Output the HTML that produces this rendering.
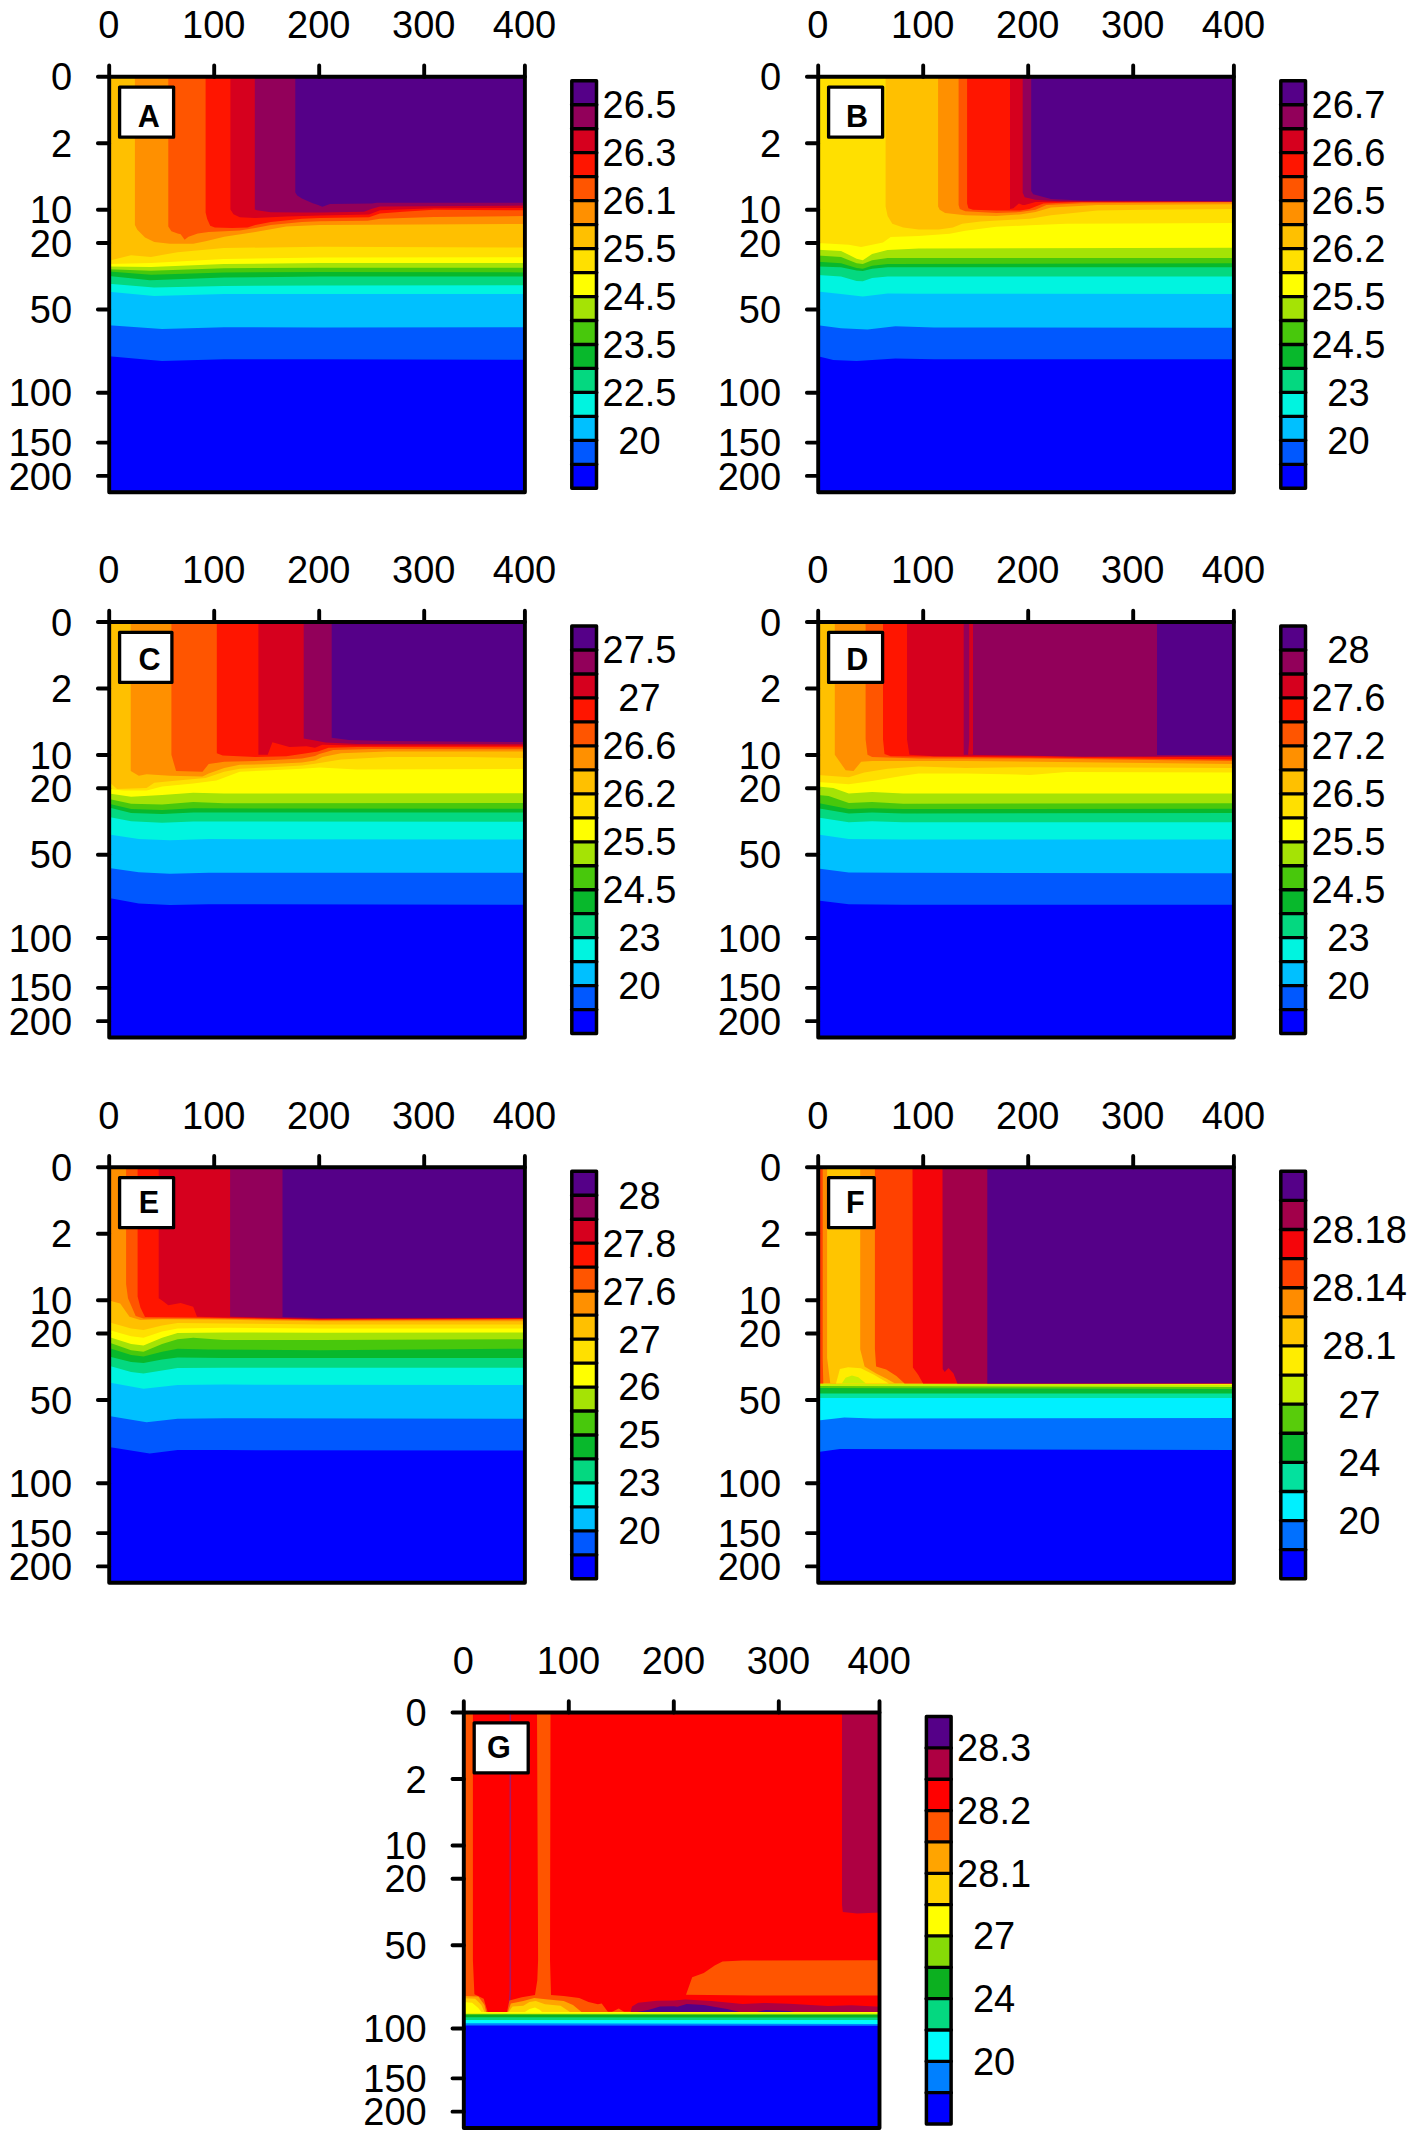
<!DOCTYPE html>
<html lang="en"><head><meta charset="utf-8"><title>Temperature sections A-G</title>
<style>html,body{margin:0;padding:0;background:#fff}svg{display:block}text{font-family:'Liberation Sans', Arial, Helvetica, sans-serif;font-size:38px;fill:#000}</style></head><body>
<svg width="1417" height="2142" viewBox="0 0 1417 2142">
<defs><clipPath id="pc"><rect x="109.2" y="76.7" width="415.7" height="415.6"/></clipPath></defs>
<rect width="1417" height="2142" fill="#fff"/>
<g transform="translate(0,0)">
<g clip-path="url(#pc)">
<rect x="100" y="70" width="440" height="430" fill="#0000ff"/>
<g transform="translate(0,0)">
<path d="M106.2,73.7 106.2,356.2 109,356.2 162,360.9 224,359.3 320,359.3 525,359.8 527.9,359.8 527.9,73.7Z" fill="#0058ff"/>
<path d="M106.2,73.7 106.2,325.2 109,325.2 162,329 224,327.2 320,327.5 525,327.2 527.9,327.2 527.9,73.7Z" fill="#00c0ff"/>
<path d="M106.2,73.7 106.2,291.8 109,291.8 154,296.1 224,294.1 525,294.1 527.9,294.1 527.9,73.7Z" fill="#00f4e0"/>
<path d="M106.2,73.7 106.2,283.7 109,283.7 154,287.5 224,285.9 320,285.6 525,285.3 527.9,285.3 527.9,73.7Z" fill="#04d880"/>
<path d="M106.2,73.7 106.2,276 109,276 150,280.2 224,277.5 320,276.6 525,276.6 527.9,276.6 527.9,73.7Z" fill="#08b82c"/>
<path d="M106.2,73.7 106.2,271.6 109,271.6 151,274.7 224,272.4 320,271.9 525,272.4 527.9,272.4 527.9,73.7Z" fill="#48c80c"/>
<path d="M106.2,73.7 106.2,269.3 109,269.3 151,270.8 224,268.2 320,267.7 525,267.7 527.9,267.7 527.9,73.7Z" fill="#a5e305"/>
<path d="M106.2,73.7 106.2,266.6 109,266.6 151,267 224,263.9 320,263.1 525,263.1 527.9,263.1 527.9,73.7Z" fill="#ffff00"/>
<path d="M106.2,73.7 106.2,263.9 109,263.9 151,263 224,258.9 320,257.6 525,257.2 527.9,257.2 527.9,73.7Z" fill="#ffe000"/>
<path d="M106.2,73.7 106.2,260.7 109,260.7 131,255.3 151,256.9 177.6,252.2 224,248 320,246.8 525,247.5 527.9,247.5 527.9,73.7Z" fill="#ffc000"/>
<path d="M134.9,73.7 134.9,77 134.9,225 137.3,229.7 145,237.5 154.3,242.1 169.9,243.7 193.2,243.7 205.6,241.3 224.2,236.7 255.3,232 286.3,226.6 320,225 525,223.9 527.9,223.9 527.9,73.7Z" fill="#ff9000"/>
<path d="M168.3,73.7 168.3,77 168.3,226.6 171.4,231.2 177.6,233.6 180.7,234.3 184.6,239.8 188.5,236.7 197.8,233.6 208.7,232 239.8,230.5 255.3,228.1 270.8,225 301.9,221.9 320,221.2 367.5,220.7 380,218.8 434,217 525,216 527.9,216 527.9,73.7Z" fill="#ff5500"/>
<path d="M205.6,73.7 205.6,77 205.6,212.6 207.1,218.8 210.2,225.8 214.9,227.4 232,228.1 247.5,227.4 255.3,225 270.8,221.9 301.9,218.8 320,218 369,217.3 380,213.4 403,211.8 434,209.8 525,210.3 527.9,210.3 527.9,73.7Z" fill="#ff1500"/>
<path d="M230.4,73.7 230.4,77 230.4,209.5 233.5,214.2 239.8,217.3 255.3,218 286.3,216.5 320,215.5 369,214.5 380,210.3 434,208.3 525,208 527.9,208 527.9,73.7Z" fill="#d6001e"/>
<path d="M254.8,73.7 254.8,77 254.8,209.5 256.8,210.3 270.8,212.3 301.9,212.6 320,212.5 364,211.8 372,208.7 380,206.4 525,205.6 527.9,205.6 527.9,73.7Z" fill="#92005a"/>
<path d="M295.3,73.7 295.3,77 295.3,192.4 297.2,195.5 301.9,198.6 312.7,203.3 317.4,204.8 322.4,206.7 330,204 372,203.6 376.8,202.8 525,202.8 527.9,202.8 527.9,73.7Z" fill="#550088"/>
</g>
</g>
<rect x="109.2" y="76.7" width="415.7" height="415.6" fill="none" stroke="#000" stroke-width="3.9" stroke-linejoin="round"/>
<path d="M109.2,76.7 V65.4M214.2,76.7 V65.4M319.2,76.7 V65.4M424.2,76.7 V65.4M524.9,76.7 V65.4M109.2,76.7 H97.9M109.2,143.3 H97.9M109.2,209.8 H97.9M109.2,243 H97.9M109.2,309.5 H97.9M109.2,392.8 H97.9M109.2,442.6 H97.9M109.2,475.9 H97.9" stroke="#000" stroke-width="3.9" stroke-linecap="round" fill="none"/>
<text x="108.8" y="38" text-anchor="middle">0</text>
<text x="213.8" y="38" text-anchor="middle">100</text>
<text x="318.8" y="38" text-anchor="middle">200</text>
<text x="423.8" y="38" text-anchor="middle">300</text>
<text x="524.5" y="38" text-anchor="middle">400</text>
<text x="72.1" y="90.3" text-anchor="end">0</text>
<text x="72.1" y="156.9" text-anchor="end">2</text>
<text x="72.1" y="223.4" text-anchor="end">10</text>
<text x="72.1" y="256.6" text-anchor="end">20</text>
<text x="72.1" y="323.1" text-anchor="end">50</text>
<text x="72.1" y="406.4" text-anchor="end">100</text>
<text x="72.1" y="456.2" text-anchor="end">150</text>
<text x="72.1" y="489.5" text-anchor="end">200</text>
<rect x="119.6" y="87.1" width="54" height="50.1" fill="#fff" stroke="#000" stroke-width="3.3" stroke-linejoin="round"/>
<text x="148.7" y="126.7" text-anchor="middle" style="font-weight:bold;font-size:30.5px">A</text>
<rect x="571.8" y="80.8" width="24.7" height="24.5" fill="#550088"/>
<rect x="571.8" y="104.8" width="24.7" height="24.5" fill="#92005a"/>
<rect x="571.8" y="128.7" width="24.7" height="24.5" fill="#d6001e"/>
<rect x="571.8" y="152.7" width="24.7" height="24.5" fill="#ff1500"/>
<rect x="571.8" y="176.7" width="24.7" height="24.5" fill="#ff5500"/>
<rect x="571.8" y="200.7" width="24.7" height="24.5" fill="#ff9000"/>
<rect x="571.8" y="224.6" width="24.7" height="24.5" fill="#ffc000"/>
<rect x="571.8" y="248.6" width="24.7" height="24.5" fill="#ffe000"/>
<rect x="571.8" y="272.6" width="24.7" height="24.5" fill="#ffff00"/>
<rect x="571.8" y="296.5" width="24.7" height="24.5" fill="#a5e305"/>
<rect x="571.8" y="320.5" width="24.7" height="24.5" fill="#48c80c"/>
<rect x="571.8" y="344.5" width="24.7" height="24.5" fill="#08b82c"/>
<rect x="571.8" y="368.4" width="24.7" height="24.5" fill="#04d880"/>
<rect x="571.8" y="392.4" width="24.7" height="24.5" fill="#00f4e0"/>
<rect x="571.8" y="416.4" width="24.7" height="24.5" fill="#00c0ff"/>
<rect x="571.8" y="440.4" width="24.7" height="24.5" fill="#0058ff"/>
<rect x="571.8" y="464.3" width="24.7" height="24.5" fill="#0000ff"/>
<path d="M571.5,104.77 H596.8M571.5,128.74 H596.8M571.5,152.71 H596.8M571.5,176.68 H596.8M571.5,200.65 H596.8M571.5,224.62 H596.8M571.5,248.59 H596.8M571.5,272.56 H596.8M571.5,296.54 H596.8M571.5,320.51 H596.8M571.5,344.48 H596.8M571.5,368.45 H596.8M571.5,392.42 H596.8M571.5,416.39 H596.8M571.5,440.36 H596.8M571.5,464.33 H596.8" stroke="#000" stroke-width="3.3" stroke-linecap="round" fill="none"/>
<rect x="571.8" y="80.8" width="24.7" height="407.5" fill="none" stroke="#000" stroke-width="3.5" stroke-linejoin="round"/>
<text x="639.5" y="118.2" text-anchor="middle">26.5</text>
<text x="639.5" y="166.1" text-anchor="middle">26.3</text>
<text x="639.5" y="214.1" text-anchor="middle">26.1</text>
<text x="639.5" y="262" text-anchor="middle">25.5</text>
<text x="639.5" y="309.9" text-anchor="middle">24.5</text>
<text x="639.5" y="357.9" text-anchor="middle">23.5</text>
<text x="639.5" y="405.8" text-anchor="middle">22.5</text>
<text x="639.5" y="453.8" text-anchor="middle">20</text>
</g>
<g transform="translate(709,0)">
<g clip-path="url(#pc)">
<rect x="100" y="70" width="440" height="430" fill="#0000ff"/>
<g transform="translate(0,0)">
<path d="M106.2,73.7 106.2,356.2 109,356.2 124.3,360.1 147.6,360.9 186.4,358.6 225.2,359.3 525,359.3 527.9,359.3 527.9,73.7Z" fill="#0058ff"/>
<path d="M106.2,73.7 106.2,325.2 109,325.2 132,328.3 158.5,329.4 186.4,326.3 225.2,327.5 525,327.8 527.9,327.8 527.9,73.7Z" fill="#00c0ff"/>
<path d="M106.2,73.7 106.2,291.5 109,291.5 132,294.1 153.8,296.5 178.6,293.4 209.7,293.7 525,294.1 527.9,294.1 527.9,73.7Z" fill="#00f4e0"/>
<path d="M106.2,73.7 106.2,275 109,275 132,276.5 147.6,280.9 153.8,281.2 163.1,278.1 178.6,276.5 525,276.5 527.9,276.5 527.9,73.7Z" fill="#04d880"/>
<path d="M106.2,73.7 106.2,266.4 109,266.4 132,267.2 147.6,270.6 153.8,271.1 163.1,268.8 178.6,267.2 525,267.2 527.9,267.2 527.9,73.7Z" fill="#08b82c"/>
<path d="M106.2,73.7 106.2,261.8 109,261.8 132,263.3 147.6,268 153.8,268.8 163.1,265.7 178.6,264.1 525,263.3 527.9,263.3 527.9,73.7Z" fill="#48c80c"/>
<path d="M106.2,73.7 106.2,255.6 109,255.6 132,257.1 147.6,263.3 153.8,264.1 163.1,260.2 178.6,257.9 525,257.9 527.9,257.9 527.9,73.7Z" fill="#a5e305"/>
<path d="M106.2,73.7 106.2,249.8 109,249.8 132,250.9 147.6,258.7 153.8,260.2 163.1,254 178.6,250.1 209.7,248.6 525,247.8 527.9,247.8 527.9,73.7Z" fill="#ffff00"/>
<path d="M106.2,73.7 106.2,243.1 109,243.1 139.8,244.7 152.2,247 163.1,244.7 174,242.4 181.7,236.9 209.7,236.1 240.8,233.8 256.3,230.7 287.3,226.8 321,225.3 357.6,223.7 525,223 527.9,223 527.9,73.7Z" fill="#ffe000"/>
<path d="M176.6,73.7 176.6,77 176.6,206.6 178.6,216 183.3,223.7 194.2,227.6 209.7,229.6 229.9,229.6 243.9,227.6 253.2,223.7 271.8,221.4 302.9,219.8 321,218.7 342,215.2 388.6,210.5 435.2,209.8 525,209 527.9,209 527.9,73.7Z" fill="#ffc000"/>
<path d="M229.1,73.7 229.1,77 229.1,206.6 230.7,209.8 236.1,212.9 256.3,215.2 287.3,216 311,214.4 326.5,212.1 342,207.4 388.6,205.1 525,204.3 527.9,204.3 527.9,73.7Z" fill="#ff9000"/>
<path d="M249.6,73.7 249.6,77 249.6,205.1 250.8,209 256.3,211.3 287.3,212.9 311,212.1 326.5,209.8 337.4,205.1 373,203.2 525,202.3 527.9,202.3 527.9,73.7Z" fill="#ff5500"/>
<path d="M258.1,73.7 258.1,77 258.1,203.5 259.4,208.2 264,209.8 287.3,210.5 311,210.5 320.3,209 334.3,203.5 373,202 525,201.7 527.9,201.7 527.9,73.7Z" fill="#ff1500"/>
<path d="M301,73.7 301,77 301,209 304.4,208.2 309.9,203.5 313.7,205.1 315.7,205.1 326.5,202 357.6,201.7 525,201.5 527.9,201.5 527.9,73.7Z" fill="#d6001e"/>
<path d="M313.7,73.7 313.7,77 313.7,192.7 315.7,197.3 326.5,199.7 349.8,201.2 525,201.4 527.9,201.4 527.9,73.7Z" fill="#92005a"/>
<path d="M322.2,73.7 322.2,77 322.2,191.1 324.2,194.2 342,198.9 373,200.4 525,201.2 527.9,201.2 527.9,73.7Z" fill="#550088"/>
</g>
</g>
<rect x="109.2" y="76.7" width="415.7" height="415.6" fill="none" stroke="#000" stroke-width="3.9" stroke-linejoin="round"/>
<path d="M109.2,76.7 V65.4M214.2,76.7 V65.4M319.2,76.7 V65.4M424.2,76.7 V65.4M524.9,76.7 V65.4M109.2,76.7 H97.9M109.2,143.3 H97.9M109.2,209.8 H97.9M109.2,243 H97.9M109.2,309.5 H97.9M109.2,392.8 H97.9M109.2,442.6 H97.9M109.2,475.9 H97.9" stroke="#000" stroke-width="3.9" stroke-linecap="round" fill="none"/>
<text x="108.8" y="38" text-anchor="middle">0</text>
<text x="213.8" y="38" text-anchor="middle">100</text>
<text x="318.8" y="38" text-anchor="middle">200</text>
<text x="423.8" y="38" text-anchor="middle">300</text>
<text x="524.5" y="38" text-anchor="middle">400</text>
<text x="72.1" y="90.3" text-anchor="end">0</text>
<text x="72.1" y="156.9" text-anchor="end">2</text>
<text x="72.1" y="223.4" text-anchor="end">10</text>
<text x="72.1" y="256.6" text-anchor="end">20</text>
<text x="72.1" y="323.1" text-anchor="end">50</text>
<text x="72.1" y="406.4" text-anchor="end">100</text>
<text x="72.1" y="456.2" text-anchor="end">150</text>
<text x="72.1" y="489.5" text-anchor="end">200</text>
<rect x="119.6" y="87.1" width="54" height="50.1" fill="#fff" stroke="#000" stroke-width="3.3" stroke-linejoin="round"/>
<text x="147.9" y="126.5" text-anchor="middle" style="font-weight:bold;font-size:30.5px">B</text>
<rect x="571.8" y="80.8" width="24.7" height="24.5" fill="#550088"/>
<rect x="571.8" y="104.8" width="24.7" height="24.5" fill="#92005a"/>
<rect x="571.8" y="128.7" width="24.7" height="24.5" fill="#d6001e"/>
<rect x="571.8" y="152.7" width="24.7" height="24.5" fill="#ff1500"/>
<rect x="571.8" y="176.7" width="24.7" height="24.5" fill="#ff5500"/>
<rect x="571.8" y="200.7" width="24.7" height="24.5" fill="#ff9000"/>
<rect x="571.8" y="224.6" width="24.7" height="24.5" fill="#ffc000"/>
<rect x="571.8" y="248.6" width="24.7" height="24.5" fill="#ffe000"/>
<rect x="571.8" y="272.6" width="24.7" height="24.5" fill="#ffff00"/>
<rect x="571.8" y="296.5" width="24.7" height="24.5" fill="#a5e305"/>
<rect x="571.8" y="320.5" width="24.7" height="24.5" fill="#48c80c"/>
<rect x="571.8" y="344.5" width="24.7" height="24.5" fill="#08b82c"/>
<rect x="571.8" y="368.4" width="24.7" height="24.5" fill="#04d880"/>
<rect x="571.8" y="392.4" width="24.7" height="24.5" fill="#00f4e0"/>
<rect x="571.8" y="416.4" width="24.7" height="24.5" fill="#00c0ff"/>
<rect x="571.8" y="440.4" width="24.7" height="24.5" fill="#0058ff"/>
<rect x="571.8" y="464.3" width="24.7" height="24.5" fill="#0000ff"/>
<path d="M571.5,104.77 H596.8M571.5,128.74 H596.8M571.5,152.71 H596.8M571.5,176.68 H596.8M571.5,200.65 H596.8M571.5,224.62 H596.8M571.5,248.59 H596.8M571.5,272.56 H596.8M571.5,296.54 H596.8M571.5,320.51 H596.8M571.5,344.48 H596.8M571.5,368.45 H596.8M571.5,392.42 H596.8M571.5,416.39 H596.8M571.5,440.36 H596.8M571.5,464.33 H596.8" stroke="#000" stroke-width="3.3" stroke-linecap="round" fill="none"/>
<rect x="571.8" y="80.8" width="24.7" height="407.5" fill="none" stroke="#000" stroke-width="3.5" stroke-linejoin="round"/>
<text x="639.5" y="118.2" text-anchor="middle">26.7</text>
<text x="639.5" y="166.1" text-anchor="middle">26.6</text>
<text x="639.5" y="214.1" text-anchor="middle">26.5</text>
<text x="639.5" y="262" text-anchor="middle">26.2</text>
<text x="639.5" y="309.9" text-anchor="middle">25.5</text>
<text x="639.5" y="357.9" text-anchor="middle">24.5</text>
<text x="639.5" y="405.8" text-anchor="middle">23</text>
<text x="639.5" y="453.8" text-anchor="middle">20</text>
</g>
<g transform="translate(0,545.25)">
<g clip-path="url(#pc)">
<rect x="100" y="70" width="440" height="430" fill="#0000ff"/>
<g transform="translate(0,-0.25)">
<path d="M106.2,73.7 106.2,353.1 109,353.1 138.8,358.6 169.9,360.1 208.7,359.3 525,359.8 527.9,359.8 527.9,73.7Z" fill="#0058ff"/>
<path d="M106.2,73.7 106.2,322.9 109,322.9 138.8,327.2 169.9,328.8 208.7,327.8 525,327.8 527.9,327.8 527.9,73.7Z" fill="#00c0ff"/>
<path d="M106.2,73.7 106.2,289.5 109,289.5 138.8,294.1 169.9,295.2 208.7,294.1 525,294.6 527.9,294.6 527.9,73.7Z" fill="#00f4e0"/>
<path d="M106.2,73.7 106.2,271.9 109,271.9 131.1,276.2 162.1,277.8 193.2,276.5 525,276.8 527.9,276.8 527.9,73.7Z" fill="#04d880"/>
<path d="M106.2,73.7 106.2,262.5 109,262.5 131.1,268 162.1,269.1 193.2,267.5 525,267.5 527.9,267.5 527.9,73.7Z" fill="#08b82c"/>
<path d="M106.2,73.7 106.2,258.7 109,258.7 131.1,264.1 162.1,264.9 193.2,263.3 525,263.8 527.9,263.8 527.9,73.7Z" fill="#48c80c"/>
<path d="M106.2,73.7 106.2,254 109,254 131.1,258.7 162.1,259.4 193.2,257.1 224.2,258.2 525,257.9 527.9,257.9 527.9,73.7Z" fill="#a5e305"/>
<path d="M106.2,73.7 106.2,248.6 109,248.6 131.1,251.7 162.1,250.1 193.2,247.8 224.2,248.6 525,248.3 527.9,248.3 527.9,73.7Z" fill="#ffff00"/>
<path d="M106.2,73.7 106.2,243.9 109,243.9 123.3,245.5 146.6,245.5 162.1,241.6 193.2,238.5 216.5,235.4 239.8,226.8 270.8,225.3 301.9,223.7 320,222.6 356.6,224.5 525,224 527.9,224 527.9,73.7Z" fill="#ffe000"/>
<path d="M106.2,73.7 106.2,236.9 109,236.9 117.1,243.9 146.6,243.1 154.3,237.7 177.6,235.4 205.6,233 224.2,226.8 239.8,223.7 270.8,222.2 301.9,220.6 315,218.7 341.1,214.4 387.6,212.1 465.3,212.1 525,212.9 527.9,212.9 527.9,73.7Z" fill="#ffc000"/>
<path d="M130.7,73.7 130.7,77 130.7,226 138.8,230.7 146.6,229.2 169.9,230.7 202.5,231.5 208.7,228.4 224.2,223 239.8,219.8 270.8,219.1 301.9,217.5 315,215.6 322.4,212.1 341.1,208.2 387.6,206.6 525,206.6 527.9,206.6 527.9,73.7Z" fill="#ff9000"/>
<path d="M171.4,73.7 171.4,77 171.4,209.8 176.1,226.1 202.5,226.8 208.7,219.1 224.2,216.7 255.3,216 301.9,213.6 315,211 319.3,209 333.3,205.1 372.1,203.9 525,204.3 527.9,204.3 527.9,73.7Z" fill="#ff5500"/>
<path d="M216.8,73.7 216.8,77 216.8,208.2 222.7,210.5 255.3,212.1 286.3,211.3 306.5,208.2 317.8,206.6 328.6,202.8 356.6,202 525,202.3 527.9,202.3 527.9,73.7Z" fill="#ff1500"/>
<path d="M258.4,73.7 258.4,77 258.4,209.8 267.7,209.8 272.4,197.3 289.4,202 306.5,201.2 315,202.8 322.4,199.7 356.6,200.4 525,200.7 527.9,200.7 527.9,73.7Z" fill="#d6001e"/>
<path d="M303.7,73.7 303.7,77 303.7,193.4 315,195.5 325.5,197.6 356.6,198.9 525,199.2 527.9,199.2 527.9,73.7Z" fill="#92005a"/>
<path d="M331.7,73.7 331.7,77 331.7,192.7 348.8,195 387.6,196.1 525,197 527.9,197 527.9,73.7Z" fill="#550088"/>
</g>
</g>
<rect x="109.2" y="76.7" width="415.7" height="415.6" fill="none" stroke="#000" stroke-width="3.9" stroke-linejoin="round"/>
<path d="M109.2,76.7 V65.4M214.2,76.7 V65.4M319.2,76.7 V65.4M424.2,76.7 V65.4M524.9,76.7 V65.4M109.2,76.7 H97.9M109.2,143.3 H97.9M109.2,209.8 H97.9M109.2,243 H97.9M109.2,309.5 H97.9M109.2,392.8 H97.9M109.2,442.6 H97.9M109.2,475.9 H97.9" stroke="#000" stroke-width="3.9" stroke-linecap="round" fill="none"/>
<text x="108.8" y="38" text-anchor="middle">0</text>
<text x="213.8" y="38" text-anchor="middle">100</text>
<text x="318.8" y="38" text-anchor="middle">200</text>
<text x="423.8" y="38" text-anchor="middle">300</text>
<text x="524.5" y="38" text-anchor="middle">400</text>
<text x="72.1" y="90.3" text-anchor="end">0</text>
<text x="72.1" y="156.9" text-anchor="end">2</text>
<text x="72.1" y="223.4" text-anchor="end">10</text>
<text x="72.1" y="256.6" text-anchor="end">20</text>
<text x="72.1" y="323.1" text-anchor="end">50</text>
<text x="72.1" y="406.4" text-anchor="end">100</text>
<text x="72.1" y="456.2" text-anchor="end">150</text>
<text x="72.1" y="489.5" text-anchor="end">200</text>
<rect x="119.6" y="87.1" width="52.3" height="50.1" fill="#fff" stroke="#000" stroke-width="3.3" stroke-linejoin="round"/>
<text x="149.6" y="125" text-anchor="middle" style="font-weight:bold;font-size:30.5px">C</text>
<rect x="571.8" y="80.8" width="24.7" height="24.5" fill="#550088"/>
<rect x="571.8" y="104.8" width="24.7" height="24.5" fill="#92005a"/>
<rect x="571.8" y="128.7" width="24.7" height="24.5" fill="#d6001e"/>
<rect x="571.8" y="152.7" width="24.7" height="24.5" fill="#ff1500"/>
<rect x="571.8" y="176.7" width="24.7" height="24.5" fill="#ff5500"/>
<rect x="571.8" y="200.7" width="24.7" height="24.5" fill="#ff9000"/>
<rect x="571.8" y="224.6" width="24.7" height="24.5" fill="#ffc000"/>
<rect x="571.8" y="248.6" width="24.7" height="24.5" fill="#ffe000"/>
<rect x="571.8" y="272.6" width="24.7" height="24.5" fill="#ffff00"/>
<rect x="571.8" y="296.5" width="24.7" height="24.5" fill="#a5e305"/>
<rect x="571.8" y="320.5" width="24.7" height="24.5" fill="#48c80c"/>
<rect x="571.8" y="344.5" width="24.7" height="24.5" fill="#08b82c"/>
<rect x="571.8" y="368.4" width="24.7" height="24.5" fill="#04d880"/>
<rect x="571.8" y="392.4" width="24.7" height="24.5" fill="#00f4e0"/>
<rect x="571.8" y="416.4" width="24.7" height="24.5" fill="#00c0ff"/>
<rect x="571.8" y="440.4" width="24.7" height="24.5" fill="#0058ff"/>
<rect x="571.8" y="464.3" width="24.7" height="24.5" fill="#0000ff"/>
<path d="M571.5,104.77 H596.8M571.5,128.74 H596.8M571.5,152.71 H596.8M571.5,176.68 H596.8M571.5,200.65 H596.8M571.5,224.62 H596.8M571.5,248.59 H596.8M571.5,272.56 H596.8M571.5,296.54 H596.8M571.5,320.51 H596.8M571.5,344.48 H596.8M571.5,368.45 H596.8M571.5,392.42 H596.8M571.5,416.39 H596.8M571.5,440.36 H596.8M571.5,464.33 H596.8" stroke="#000" stroke-width="3.3" stroke-linecap="round" fill="none"/>
<rect x="571.8" y="80.8" width="24.7" height="407.5" fill="none" stroke="#000" stroke-width="3.5" stroke-linejoin="round"/>
<text x="639.5" y="118.2" text-anchor="middle">27.5</text>
<text x="639.5" y="166.1" text-anchor="middle">27</text>
<text x="639.5" y="214.1" text-anchor="middle">26.6</text>
<text x="639.5" y="262" text-anchor="middle">26.2</text>
<text x="639.5" y="309.9" text-anchor="middle">25.5</text>
<text x="639.5" y="357.9" text-anchor="middle">24.5</text>
<text x="639.5" y="405.8" text-anchor="middle">23</text>
<text x="639.5" y="453.8" text-anchor="middle">20</text>
</g>
<g transform="translate(709,545.25)">
<g clip-path="url(#pc)">
<rect x="100" y="70" width="440" height="430" fill="#0000ff"/>
<g transform="translate(0,-0.25)">
<path d="M106.2,73.7 106.2,355.5 109,355.5 139.8,359.3 194.2,359.8 525,359.8 527.9,359.8 527.9,73.7Z" fill="#0058ff"/>
<path d="M106.2,73.7 106.2,323.6 109,323.6 139.8,327.5 194.2,327.8 525,328.3 527.9,328.3 527.9,73.7Z" fill="#00c0ff"/>
<path d="M106.2,73.7 106.2,289.5 109,289.5 139.8,294.1 194.2,294.6 525,294.6 527.9,294.6 527.9,73.7Z" fill="#00f4e0"/>
<path d="M106.2,73.7 106.2,272.6 109,272.6 139.8,277.3 163.1,276.2 194.2,277.3 525,277.3 527.9,277.3 527.9,73.7Z" fill="#04d880"/>
<path d="M106.2,73.7 106.2,263.3 109,263.3 139.8,268.4 163.1,267.5 194.2,268.4 525,268 527.9,268 527.9,73.7Z" fill="#08b82c"/>
<path d="M106.2,73.7 106.2,257.9 109,257.9 139.8,264.1 163.1,263.3 194.2,264.1 525,263.8 527.9,263.8 527.9,73.7Z" fill="#48c80c"/>
<path d="M106.2,73.7 106.2,250.1 109,250.1 119.6,250.9 139.8,257.9 163.1,257.1 194.2,258.7 525,258.2 527.9,258.2 527.9,73.7Z" fill="#a5e305"/>
<path d="M106.2,73.7 106.2,241.6 109,241.6 124.3,243.1 139.8,248.6 163.1,247 194.2,248.6 525,248.6 527.9,248.6 527.9,73.7Z" fill="#ffff00"/>
<path d="M106.2,73.7 106.2,236.9 109,236.9 139.8,239.3 163.1,236.1 194.2,230.7 209.7,228.4 256.3,228.4 321,229.9 357.6,227.1 525,227.6 527.9,227.6 527.9,73.7Z" fill="#ffe000"/>
<path d="M106.2,73.7 106.2,229.9 109,229.9 139.8,232.3 155.3,227.6 178.6,223.7 209.7,221.4 256.3,223 321,222.2 525,223 527.9,223 527.9,73.7Z" fill="#ffc000"/>
<path d="M125.8,73.7 125.8,77 125.8,209.8 136.7,225.3 144.5,226.1 152.2,216.7 163.1,216 209.7,216 256.3,216 525,219 527.9,219 527.9,73.7Z" fill="#ff9000"/>
<path d="M156.6,73.7 156.6,77 156.6,194.2 158.5,209.8 163.1,212.1 209.7,213.6 321,213.6 525,216 527.9,216 527.9,73.7Z" fill="#ff5500"/>
<path d="M174,73.7 174,77 174,194.2 175.5,209 181.7,211.3 321,212.5 525,214.4 527.9,214.4 527.9,73.7Z" fill="#ff1500"/>
<path d="M198,73.7 198,77 198,194.2 200.4,209.8 225.2,211.3 321,211.3 525,212 527.9,212 527.9,73.7Z" fill="#d6001e"/>
<path d="M254.7,73.7 254.7,77 254.7,209.8 311,210.5 373,211.7 525,211.3 527.9,211.3 527.9,73.7Z" fill="#92005a"/>
<path d="M260.2,74 264,74 264,209.8 259.1,209.8 260.2,195Z" fill="#d6001e"/>
<path d="M448,73.7 448,77 448,210.1 525,210.1 527.9,210.1 527.9,73.7Z" fill="#550088"/>
</g>
</g>
<rect x="109.2" y="76.7" width="415.7" height="415.6" fill="none" stroke="#000" stroke-width="3.9" stroke-linejoin="round"/>
<path d="M109.2,76.7 V65.4M214.2,76.7 V65.4M319.2,76.7 V65.4M424.2,76.7 V65.4M524.9,76.7 V65.4M109.2,76.7 H97.9M109.2,143.3 H97.9M109.2,209.8 H97.9M109.2,243 H97.9M109.2,309.5 H97.9M109.2,392.8 H97.9M109.2,442.6 H97.9M109.2,475.9 H97.9" stroke="#000" stroke-width="3.9" stroke-linecap="round" fill="none"/>
<text x="108.8" y="38" text-anchor="middle">0</text>
<text x="213.8" y="38" text-anchor="middle">100</text>
<text x="318.8" y="38" text-anchor="middle">200</text>
<text x="423.8" y="38" text-anchor="middle">300</text>
<text x="524.5" y="38" text-anchor="middle">400</text>
<text x="72.1" y="90.3" text-anchor="end">0</text>
<text x="72.1" y="156.9" text-anchor="end">2</text>
<text x="72.1" y="223.4" text-anchor="end">10</text>
<text x="72.1" y="256.6" text-anchor="end">20</text>
<text x="72.1" y="323.1" text-anchor="end">50</text>
<text x="72.1" y="406.4" text-anchor="end">100</text>
<text x="72.1" y="456.2" text-anchor="end">150</text>
<text x="72.1" y="489.5" text-anchor="end">200</text>
<rect x="119.6" y="87.1" width="54" height="50.1" fill="#fff" stroke="#000" stroke-width="3.3" stroke-linejoin="round"/>
<text x="148.3" y="124.8" text-anchor="middle" style="font-weight:bold;font-size:30.5px">D</text>
<rect x="571.8" y="80.8" width="24.7" height="24.5" fill="#550088"/>
<rect x="571.8" y="104.8" width="24.7" height="24.5" fill="#92005a"/>
<rect x="571.8" y="128.7" width="24.7" height="24.5" fill="#d6001e"/>
<rect x="571.8" y="152.7" width="24.7" height="24.5" fill="#ff1500"/>
<rect x="571.8" y="176.7" width="24.7" height="24.5" fill="#ff5500"/>
<rect x="571.8" y="200.7" width="24.7" height="24.5" fill="#ff9000"/>
<rect x="571.8" y="224.6" width="24.7" height="24.5" fill="#ffc000"/>
<rect x="571.8" y="248.6" width="24.7" height="24.5" fill="#ffe000"/>
<rect x="571.8" y="272.6" width="24.7" height="24.5" fill="#ffff00"/>
<rect x="571.8" y="296.5" width="24.7" height="24.5" fill="#a5e305"/>
<rect x="571.8" y="320.5" width="24.7" height="24.5" fill="#48c80c"/>
<rect x="571.8" y="344.5" width="24.7" height="24.5" fill="#08b82c"/>
<rect x="571.8" y="368.4" width="24.7" height="24.5" fill="#04d880"/>
<rect x="571.8" y="392.4" width="24.7" height="24.5" fill="#00f4e0"/>
<rect x="571.8" y="416.4" width="24.7" height="24.5" fill="#00c0ff"/>
<rect x="571.8" y="440.4" width="24.7" height="24.5" fill="#0058ff"/>
<rect x="571.8" y="464.3" width="24.7" height="24.5" fill="#0000ff"/>
<path d="M571.5,104.77 H596.8M571.5,128.74 H596.8M571.5,152.71 H596.8M571.5,176.68 H596.8M571.5,200.65 H596.8M571.5,224.62 H596.8M571.5,248.59 H596.8M571.5,272.56 H596.8M571.5,296.54 H596.8M571.5,320.51 H596.8M571.5,344.48 H596.8M571.5,368.45 H596.8M571.5,392.42 H596.8M571.5,416.39 H596.8M571.5,440.36 H596.8M571.5,464.33 H596.8" stroke="#000" stroke-width="3.3" stroke-linecap="round" fill="none"/>
<rect x="571.8" y="80.8" width="24.7" height="407.5" fill="none" stroke="#000" stroke-width="3.5" stroke-linejoin="round"/>
<text x="639.5" y="118.2" text-anchor="middle">28</text>
<text x="639.5" y="166.1" text-anchor="middle">27.6</text>
<text x="639.5" y="214.1" text-anchor="middle">27.2</text>
<text x="639.5" y="262" text-anchor="middle">26.5</text>
<text x="639.5" y="309.9" text-anchor="middle">25.5</text>
<text x="639.5" y="357.9" text-anchor="middle">24.5</text>
<text x="639.5" y="405.8" text-anchor="middle">23</text>
<text x="639.5" y="453.8" text-anchor="middle">20</text>
</g>
<g transform="translate(0,1090.5)">
<g clip-path="url(#pc)">
<rect x="100" y="70" width="440" height="430" fill="#0000ff"/>
<g transform="translate(0,-0.5)">
<path d="M106.2,73.7 106.2,357 109,357 149.7,363.5 177.6,360.1 224.2,360.1 525,360.4 527.9,360.4 527.9,73.7Z" fill="#0058ff"/>
<path d="M106.2,73.7 106.2,326 109,326 146.6,332.2 177.6,328.8 224.2,328.3 525,328.8 527.9,328.8 527.9,73.7Z" fill="#00c0ff"/>
<path d="M106.2,73.7 106.2,292.6 109,292.6 143.5,298.8 177.6,294.9 224.2,294.6 525,294.9 527.9,294.9 527.9,73.7Z" fill="#00f4e0"/>
<path d="M106.2,73.7 106.2,275.7 109,275.7 131.1,282 143.5,283.5 162.1,280.4 177.6,278.1 224.2,277.8 525,277.8 527.9,277.8 527.9,73.7Z" fill="#04d880"/>
<path d="M106.2,73.7 106.2,266.4 109,266.4 131.1,271.9 143.5,273.1 162.1,269.5 177.6,267.5 224.2,268 525,268 527.9,268 527.9,73.7Z" fill="#08b82c"/>
<path d="M106.2,73.7 106.2,257.9 109,257.9 131.1,264.9 143.5,266.4 162.1,261.8 177.6,258.7 208.7,259.4 320,260.2 525,258.7 527.9,258.7 527.9,73.7Z" fill="#48c80c"/>
<path d="M106.2,73.7 106.2,252.5 109,252.5 131.1,260.2 143.5,261.8 162.1,254 177.6,249.3 193.2,247.8 224.2,250.1 320,250.1 525,249.3 527.9,249.3 527.9,73.7Z" fill="#a5e305"/>
<path d="M106.2,73.7 106.2,247 109,247 131.1,254 143.5,255.6 162.1,247.8 177.6,243.1 224.2,242.4 320,242.7 525,242.4 527.9,242.4 527.9,73.7Z" fill="#ffff00"/>
<path d="M106.2,73.7 106.2,240 109,240 131.1,246.2 143.5,247.8 162.1,241.6 177.6,238.5 224.2,237.7 320,238.5 525,238.5 527.9,238.5 527.9,73.7Z" fill="#ffe000"/>
<path d="M106.2,73.7 106.2,232.3 109,232.3 131.1,238.5 143.5,240 162.1,235.4 177.6,233 224.2,233.4 320,234.6 525,234.6 527.9,234.6 527.9,73.7Z" fill="#ffc000"/>
<path d="M106.2,73.7 106.2,210.5 109,210.5 120.2,213.6 129.5,226.8 140.4,229.9 162.1,229.2 208.7,229.6 320,231.2 525,231.2 527.9,231.2 527.9,73.7Z" fill="#ff9000"/>
<path d="M126.1,73.7 126.1,77 126.1,194.2 128,208.2 135.7,226.1 143.5,228.4 193.2,228.4 320,230.2 525,229.6 527.9,229.6 527.9,73.7Z" fill="#ff5500"/>
<path d="M137.6,73.7 137.6,77 137.6,206.6 140.4,217.5 145,227.1 193.2,227.6 320,229.6 525,228.9 527.9,228.9 527.9,73.7Z" fill="#ff1500"/>
<path d="M158.7,73.7 158.7,77 158.7,208.2 162.1,210.5 168.3,215.2 180.7,212.9 193.2,216.7 197,226.8 320,229.2 525,228.4 527.9,228.4 527.9,73.7Z" fill="#d6001e"/>
<path d="M230.1,73.7 230.1,77 230.1,226.8 320,228.7 525,228 527.9,228 527.9,73.7Z" fill="#92005a"/>
<path d="M282.5,73.7 282.5,77 282.5,227.1 320,228.1 525,227.6 527.9,227.6 527.9,73.7Z" fill="#550088"/>
</g>
</g>
<rect x="109.2" y="76.7" width="415.7" height="415.6" fill="none" stroke="#000" stroke-width="3.9" stroke-linejoin="round"/>
<path d="M109.2,76.7 V65.4M214.2,76.7 V65.4M319.2,76.7 V65.4M424.2,76.7 V65.4M524.9,76.7 V65.4M109.2,76.7 H97.9M109.2,143.3 H97.9M109.2,209.8 H97.9M109.2,243 H97.9M109.2,309.5 H97.9M109.2,392.8 H97.9M109.2,442.6 H97.9M109.2,475.9 H97.9" stroke="#000" stroke-width="3.9" stroke-linecap="round" fill="none"/>
<text x="108.8" y="38" text-anchor="middle">0</text>
<text x="213.8" y="38" text-anchor="middle">100</text>
<text x="318.8" y="38" text-anchor="middle">200</text>
<text x="423.8" y="38" text-anchor="middle">300</text>
<text x="524.5" y="38" text-anchor="middle">400</text>
<text x="72.1" y="90.3" text-anchor="end">0</text>
<text x="72.1" y="156.9" text-anchor="end">2</text>
<text x="72.1" y="223.4" text-anchor="end">10</text>
<text x="72.1" y="256.6" text-anchor="end">20</text>
<text x="72.1" y="323.1" text-anchor="end">50</text>
<text x="72.1" y="406.4" text-anchor="end">100</text>
<text x="72.1" y="456.2" text-anchor="end">150</text>
<text x="72.1" y="489.5" text-anchor="end">200</text>
<rect x="119.6" y="87.1" width="54" height="50.1" fill="#fff" stroke="#000" stroke-width="3.3" stroke-linejoin="round"/>
<text x="148.8" y="122.4" text-anchor="middle" style="font-weight:bold;font-size:30.5px">E</text>
<rect x="571.8" y="80.8" width="24.7" height="24.5" fill="#550088"/>
<rect x="571.8" y="104.8" width="24.7" height="24.5" fill="#92005a"/>
<rect x="571.8" y="128.7" width="24.7" height="24.5" fill="#d6001e"/>
<rect x="571.8" y="152.7" width="24.7" height="24.5" fill="#ff1500"/>
<rect x="571.8" y="176.7" width="24.7" height="24.5" fill="#ff5500"/>
<rect x="571.8" y="200.7" width="24.7" height="24.5" fill="#ff9000"/>
<rect x="571.8" y="224.6" width="24.7" height="24.5" fill="#ffc000"/>
<rect x="571.8" y="248.6" width="24.7" height="24.5" fill="#ffe000"/>
<rect x="571.8" y="272.6" width="24.7" height="24.5" fill="#ffff00"/>
<rect x="571.8" y="296.5" width="24.7" height="24.5" fill="#a5e305"/>
<rect x="571.8" y="320.5" width="24.7" height="24.5" fill="#48c80c"/>
<rect x="571.8" y="344.5" width="24.7" height="24.5" fill="#08b82c"/>
<rect x="571.8" y="368.4" width="24.7" height="24.5" fill="#04d880"/>
<rect x="571.8" y="392.4" width="24.7" height="24.5" fill="#00f4e0"/>
<rect x="571.8" y="416.4" width="24.7" height="24.5" fill="#00c0ff"/>
<rect x="571.8" y="440.4" width="24.7" height="24.5" fill="#0058ff"/>
<rect x="571.8" y="464.3" width="24.7" height="24.5" fill="#0000ff"/>
<path d="M571.5,104.77 H596.8M571.5,128.74 H596.8M571.5,152.71 H596.8M571.5,176.68 H596.8M571.5,200.65 H596.8M571.5,224.62 H596.8M571.5,248.59 H596.8M571.5,272.56 H596.8M571.5,296.54 H596.8M571.5,320.51 H596.8M571.5,344.48 H596.8M571.5,368.45 H596.8M571.5,392.42 H596.8M571.5,416.39 H596.8M571.5,440.36 H596.8M571.5,464.33 H596.8" stroke="#000" stroke-width="3.3" stroke-linecap="round" fill="none"/>
<rect x="571.8" y="80.8" width="24.7" height="407.5" fill="none" stroke="#000" stroke-width="3.5" stroke-linejoin="round"/>
<text x="639.5" y="118.2" text-anchor="middle">28</text>
<text x="639.5" y="166.1" text-anchor="middle">27.8</text>
<text x="639.5" y="214.1" text-anchor="middle">27.6</text>
<text x="639.5" y="262" text-anchor="middle">27</text>
<text x="639.5" y="309.9" text-anchor="middle">26</text>
<text x="639.5" y="357.9" text-anchor="middle">25</text>
<text x="639.5" y="405.8" text-anchor="middle">23</text>
<text x="639.5" y="453.8" text-anchor="middle">20</text>
</g>
<g transform="translate(709,1090.5)">
<g clip-path="url(#pc)">
<rect x="100" y="70" width="440" height="430" fill="#0000ff"/>
<g transform="translate(0,-0.5)">
<path d="M106.2,73.7 106.2,362 109,362 131,359 525,360 527.9,360 527.9,73.7Z" fill="#0070ff"/>
<path d="M106.2,73.7 106.2,330.4 109,330.4 135.3,327.6 164.5,328.4 525,328.1 527.9,328.1 527.9,73.7Z" fill="#00f0ff"/>
<path d="M106.2,73.7 106.2,308.1 109,308.1 525,308 527.9,308 527.9,73.7Z" fill="#03e19e"/>
<path d="M106.2,73.7 106.2,303.4 109,303.4 525,303.4 527.9,303.4 527.9,73.7Z" fill="#08ba32"/>
<path d="M106.2,73.7 106.2,298 109,298 525,299.1 527.9,299.1 527.9,73.7Z" fill="#58cc0b"/>
<path d="M106.2,73.7 106.2,296 109,296 525,297.1 527.9,297.1 527.9,73.7Z" fill="#c8ee03"/>
<path d="M106.2,73.7 106.2,293.5 109,293.5 300,293.5 525,294.9 527.9,294.9 527.9,73.7Z" fill="#ffed00"/>
<path d="M106,73.7 527.9,73.7 527.9,293.3 106,293.5Z" fill="#ff8c00"/>
<path d="M106,73.7 113.7,73.7 113.7,268 114.3,293.5 106,293.5Z" fill="#ff4100"/>
<path d="M118.1,73.7 151.2,73.7 151.2,259.2 155.6,276.4 167.1,283.4 177.2,288.4 186.1,293.5 121.3,293.5 118.1,268.1Z" fill="#ffc500"/>
<path d="M127,293.5 130.9,278.9 139.1,277.3 151.8,278.3 164.5,284.6 179.8,293.5Z" fill="#ffed00"/>
<path d="M132.8,293.5 136.6,287.8 142.9,285.6 149.3,287.2 156.9,293.5Z" fill="#c8ee03"/>
<path d="M165.9,73.7 165.9,259 167.1,276.4 177.2,279.5 187.4,285.9 195.6,293.5 527.9,293.4 527.9,73.7Z" fill="#ff4100"/>
<path d="M203.5,73.7 203.9,277.6 209,284.6 214.1,293.5 527.9,293.4 527.9,73.7Z" fill="#f5050a"/>
<path d="M233.5,73.7 233.7,278.9 235.7,282.1 239.5,278 244.5,283.4 248.4,293.5 527.9,293.4 527.9,73.7Z" fill="#a2004a"/>
<path d="M278.3,73.7 278.3,293.4 527.9,293.3 527.9,73.7Z" fill="#550088"/>
</g>
</g>
<rect x="109.2" y="76.7" width="415.7" height="415.6" fill="none" stroke="#000" stroke-width="3.9" stroke-linejoin="round"/>
<path d="M109.2,76.7 V65.4M214.2,76.7 V65.4M319.2,76.7 V65.4M424.2,76.7 V65.4M524.9,76.7 V65.4M109.2,76.7 H97.9M109.2,143.3 H97.9M109.2,209.8 H97.9M109.2,243 H97.9M109.2,309.5 H97.9M109.2,392.8 H97.9M109.2,442.6 H97.9M109.2,475.9 H97.9" stroke="#000" stroke-width="3.9" stroke-linecap="round" fill="none"/>
<text x="108.8" y="38" text-anchor="middle">0</text>
<text x="213.8" y="38" text-anchor="middle">100</text>
<text x="318.8" y="38" text-anchor="middle">200</text>
<text x="423.8" y="38" text-anchor="middle">300</text>
<text x="524.5" y="38" text-anchor="middle">400</text>
<text x="72.1" y="90.3" text-anchor="end">0</text>
<text x="72.1" y="156.9" text-anchor="end">2</text>
<text x="72.1" y="223.4" text-anchor="end">10</text>
<text x="72.1" y="256.6" text-anchor="end">20</text>
<text x="72.1" y="323.1" text-anchor="end">50</text>
<text x="72.1" y="406.4" text-anchor="end">100</text>
<text x="72.1" y="456.2" text-anchor="end">150</text>
<text x="72.1" y="489.5" text-anchor="end">200</text>
<rect x="119.6" y="87.1" width="45.6" height="50.1" fill="#fff" stroke="#000" stroke-width="3.3" stroke-linejoin="round"/>
<text x="146.3" y="122.4" text-anchor="middle" style="font-weight:bold;font-size:30.5px">F</text>
<rect x="571.8" y="80.8" width="24.7" height="29.6" fill="#550088"/>
<rect x="571.8" y="109.9" width="24.7" height="29.6" fill="#a2004a"/>
<rect x="571.8" y="139" width="24.7" height="29.6" fill="#f5050a"/>
<rect x="571.8" y="168.1" width="24.7" height="29.6" fill="#ff4100"/>
<rect x="571.8" y="197.2" width="24.7" height="29.6" fill="#ff8c00"/>
<rect x="571.8" y="226.3" width="24.7" height="29.6" fill="#ffc500"/>
<rect x="571.8" y="255.4" width="24.7" height="29.6" fill="#ffed00"/>
<rect x="571.8" y="284.6" width="24.7" height="29.6" fill="#c8ee03"/>
<rect x="571.8" y="313.7" width="24.7" height="29.6" fill="#58cc0b"/>
<rect x="571.8" y="342.8" width="24.7" height="29.6" fill="#08ba32"/>
<rect x="571.8" y="371.9" width="24.7" height="29.6" fill="#03e19e"/>
<rect x="571.8" y="401" width="24.7" height="29.6" fill="#00f0ff"/>
<rect x="571.8" y="430.1" width="24.7" height="29.6" fill="#0070ff"/>
<rect x="571.8" y="459.2" width="24.7" height="29.6" fill="#0000ff"/>
<path d="M571.5,109.91 H596.8M571.5,139.01 H596.8M571.5,168.12 H596.8M571.5,197.23 H596.8M571.5,226.34 H596.8M571.5,255.44 H596.8M571.5,284.55 H596.8M571.5,313.66 H596.8M571.5,342.76 H596.8M571.5,371.87 H596.8M571.5,400.98 H596.8M571.5,430.09 H596.8M571.5,459.19 H596.8" stroke="#000" stroke-width="3.3" stroke-linecap="round" fill="none"/>
<rect x="571.8" y="80.8" width="24.7" height="407.5" fill="none" stroke="#000" stroke-width="3.5" stroke-linejoin="round"/>
<text x="650.3" y="152.4" text-anchor="middle">28.18</text>
<text x="650.3" y="210.6" text-anchor="middle">28.14</text>
<text x="650.3" y="268.8" text-anchor="middle">28.1</text>
<text x="650.3" y="327.1" text-anchor="middle">27</text>
<text x="650.3" y="385.3" text-anchor="middle">24</text>
<text x="650.3" y="443.5" text-anchor="middle">20</text>
</g>
<g transform="translate(354.6,1635.75)">
<g clip-path="url(#pc)">
<rect x="100" y="70" width="440" height="430" fill="#0000ff"/>
<g transform="translate(-0.2,-0.75)">
<path d="M106.2,73.7 106.2,390.6 109,390.6 525,390.7 527.9,390.7 527.9,73.7Z" fill="#0080ff"/>
<path d="M106.2,73.7 106.2,388.2 109,388.2 525,388.9 527.9,388.9 527.9,73.7Z" fill="#00fcfc"/>
<path d="M106.2,73.7 106.2,384.9 109,384.9 525,385 527.9,385 527.9,73.7Z" fill="#04d880"/>
<path d="M106.2,73.7 106.2,382.3 109,382.3 525,382.6 527.9,382.6 527.9,73.7Z" fill="#0cb020"/>
<path d="M106.2,73.7 106.2,379.6 109,379.6 525,379.8 527.9,379.8 527.9,73.7Z" fill="#86da07"/>
<path d="M106.2,73.7 106.2,378.7 109,378.7 525,378.8 527.9,378.8 527.9,73.7Z" fill="#ffff00"/>
<path d="M106.2,73.7 106.2,377 109,377 525,376.8 527.9,376.8 527.9,73.7Z" fill="#ff0000"/>
<path d="M106,73.7 118.5,73.7 118.5,325 120,359.2 129.3,363.8 133.2,377 106,377Z" fill="#ff5500"/>
<path d="M106,361 123.9,361.5 130.1,370 131.7,377 106,377Z" fill="#ffa400"/>
<path d="M106,363 120.8,363.8 127,370 130.1,377 106,377Z" fill="#ffd400"/>
<path d="M106,366.9 117.7,367.7 123.9,373.1 127,377 106,377Z" fill="#ffff00"/>
<path d="M155.9,73.7 L155.9,355 L154.6,377" stroke="#a81868" stroke-width="1.6" fill="none"/>
<path d="M182.6,73.7 196.1,73.7 195.6,325 196.6,359.9 209.3,361 224.8,363 234.1,366.9 243.5,369.3 247.3,368.5 253.6,377 152.6,377 155,365.4 167.4,362.3 180.6,359.9 182.9,345.2 183.7,325Z" fill="#ff5500"/>
<path d="M257.4,377 264.4,373.4 269.9,377Z" fill="#ff5500"/>
<path d="M153.4,377 156.5,368.5 168.9,366.1 179.8,363 193.8,364.6 209.3,366.1 218.6,370 227.1,377Z" fill="#ffa400"/>
<path d="M154.2,377 158.1,371.6 168.9,370.8 175.1,366.9 181.3,366.1 190.7,369.3 206.2,370.8 215.5,377Z" fill="#ffd400"/>
<path d="M170.5,377 175.1,373.9 180.6,372.4 185.2,374.7 187.6,377Z" fill="#ffff00"/>
<path d="M487.6,73.7 527.9,73.7 527.9,277.3 502.8,278.5 488.4,277 487.6,270Z" fill="#ae0042"/>
<path d="M331.6,359.7 337.8,342.3 349.4,337.9 360.3,330.6 368.1,326.4 388.2,325.5 527.9,325.2 527.9,360.6 400,360.6Z" fill="#ff5500"/>
<path d="M276.1,377 277.6,371.6 283.8,367.7 302.5,365.7 319.4,365.4 330.8,364.5 357.2,366 388.2,369 411.5,367.9 434.8,368.7 473.6,371 496.9,370.2 527.9,371.8 527.9,377Z" fill="#ae0042"/>
<path d="M282.3,377 294.7,374.7 305.6,371.6 319.4,371.3 323,371.8 332.3,369 349.4,369.9 372.7,374.1 385.1,377Z" fill="#550088"/>
<path d="M402.2,377 411.5,374.9 434.8,376.1 440,377Z" fill="#550088"/>
</g>
</g>
<rect x="109.2" y="76.7" width="415.7" height="415.6" fill="none" stroke="#000" stroke-width="3.9" stroke-linejoin="round"/>
<path d="M109.2,76.7 V65.4M214.2,76.7 V65.4M319.2,76.7 V65.4M424.2,76.7 V65.4M524.9,76.7 V65.4M109.2,76.7 H97.9M109.2,143.3 H97.9M109.2,209.8 H97.9M109.2,243 H97.9M109.2,309.5 H97.9M109.2,392.8 H97.9M109.2,442.6 H97.9M109.2,475.9 H97.9" stroke="#000" stroke-width="3.9" stroke-linecap="round" fill="none"/>
<text x="108.8" y="38" text-anchor="middle">0</text>
<text x="213.8" y="38" text-anchor="middle">100</text>
<text x="318.8" y="38" text-anchor="middle">200</text>
<text x="423.8" y="38" text-anchor="middle">300</text>
<text x="524.5" y="38" text-anchor="middle">400</text>
<text x="72.1" y="90.3" text-anchor="end">0</text>
<text x="72.1" y="156.9" text-anchor="end">2</text>
<text x="72.1" y="223.4" text-anchor="end">10</text>
<text x="72.1" y="256.6" text-anchor="end">20</text>
<text x="72.1" y="323.1" text-anchor="end">50</text>
<text x="72.1" y="406.4" text-anchor="end">100</text>
<text x="72.1" y="456.2" text-anchor="end">150</text>
<text x="72.1" y="489.5" text-anchor="end">200</text>
<rect x="119.6" y="87.1" width="54" height="50.1" fill="#fff" stroke="#000" stroke-width="3.3" stroke-linejoin="round"/>
<text x="144.2" y="122.7" text-anchor="middle" style="font-weight:bold;font-size:30.5px">G</text>
<rect x="571.8" y="80.8" width="24.7" height="31.8" fill="#550088"/>
<rect x="571.8" y="112.1" width="24.7" height="31.8" fill="#ae0042"/>
<rect x="571.8" y="143.5" width="24.7" height="31.8" fill="#ff0000"/>
<rect x="571.8" y="174.8" width="24.7" height="31.8" fill="#ff5500"/>
<rect x="571.8" y="206.2" width="24.7" height="31.8" fill="#ffa400"/>
<rect x="571.8" y="237.5" width="24.7" height="31.8" fill="#ffd400"/>
<rect x="571.8" y="268.9" width="24.7" height="31.8" fill="#ffff00"/>
<rect x="571.8" y="300.2" width="24.7" height="31.8" fill="#86da07"/>
<rect x="571.8" y="331.6" width="24.7" height="31.8" fill="#0cb020"/>
<rect x="571.8" y="362.9" width="24.7" height="31.8" fill="#04d880"/>
<rect x="571.8" y="394.3" width="24.7" height="31.8" fill="#00fcfc"/>
<rect x="571.8" y="425.6" width="24.7" height="31.8" fill="#0080ff"/>
<rect x="571.8" y="457" width="24.7" height="31.8" fill="#0000ff"/>
<path d="M571.5,112.15 H596.8M571.5,143.49 H596.8M571.5,174.84 H596.8M571.5,206.18 H596.8M571.5,237.53 H596.8M571.5,268.88 H596.8M571.5,300.22 H596.8M571.5,331.57 H596.8M571.5,362.92 H596.8M571.5,394.26 H596.8M571.5,425.61 H596.8M571.5,456.95 H596.8" stroke="#000" stroke-width="3.3" stroke-linecap="round" fill="none"/>
<rect x="571.8" y="80.8" width="24.7" height="407.5" fill="none" stroke="#000" stroke-width="3.5" stroke-linejoin="round"/>
<text x="639.5" y="125.5" text-anchor="middle">28.3</text>
<text x="639.5" y="188.2" text-anchor="middle">28.2</text>
<text x="639.5" y="250.9" text-anchor="middle">28.1</text>
<text x="639.5" y="313.6" text-anchor="middle">27</text>
<text x="639.5" y="376.3" text-anchor="middle">24</text>
<text x="639.5" y="439" text-anchor="middle">20</text>
</g>
</svg></body></html>
